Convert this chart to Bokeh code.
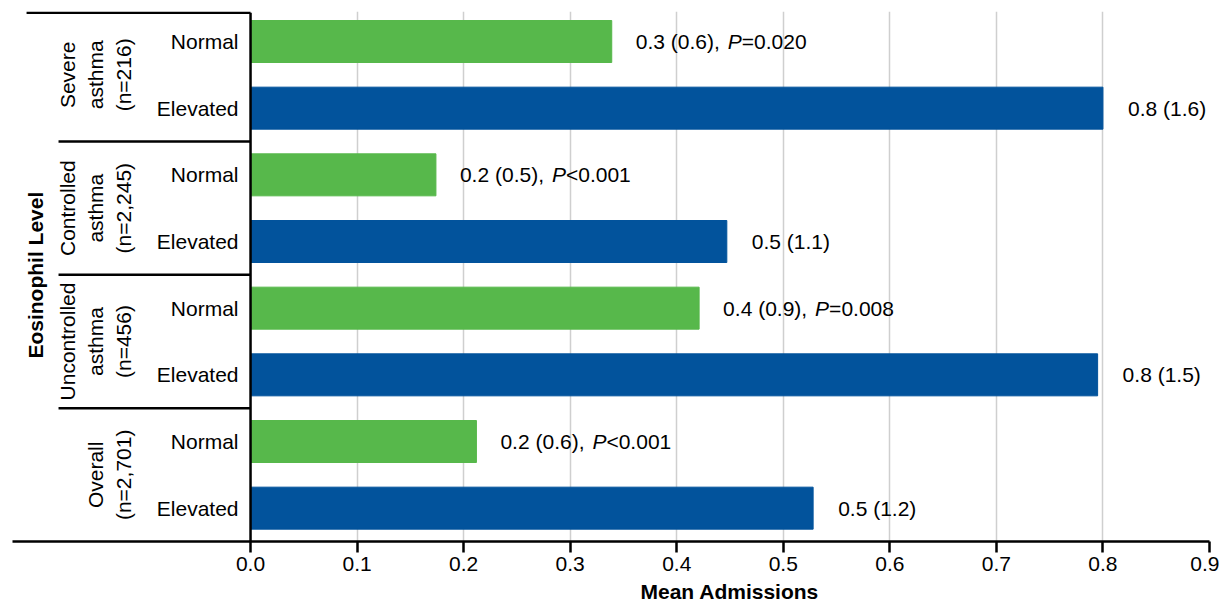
import math
from bokeh.plotting import figure
from bokeh.models import Range1d, FixedTicker, Title, ColumnDataSource, NumeralTickFormatter
from bokeh.core.properties import value
from bokeh.embed import file_html
from bokeh.resources import INLINE

# ---------------- data ----------------
groups = ["Severe\nasthma\n(n=216)", "Controlled\nasthma\n(n=2,245)",
          "Uncontrolled\nasthma\n(n=456)", "Overall\n(n=2,701)"]
levels = ["Normal", "Elevated"]
normal_means = [0.339, 0.174, 0.421, 0.212]
elevated_means = [0.800, 0.447, 0.795, 0.528]
normal_text = ["0.3 (0.6),", "0.2 (0.5),", "0.4 (0.9),", "0.2 (0.6),"]
p_symbol = ["P", "P", "P", "P"]
p_text = ["=0.020", "<0.001", "=0.008", "<0.001"]
elevated_text = ["0.8 (1.6)", "0.5 (1.1)", "0.8 (1.5)", "0.5 (1.2)"]
x_ticks = [0.0, 0.1, 0.2, 0.3, 0.4, 0.5, 0.6, 0.7, 0.8, 0.9]
x_title = "Mean Admissions"
y_title = "Eosinophil Level"

# ---------------- layout ----------------
FONT = "Liberation Sans"
FS = "21px"
GREEN = "#57b84b"
BLUE = "#02539c"
n = len(groups)
y_top = 2 * n - 0.05
normal_y = [2 * n - 0.5 - 2 * g for g in range(n)]
elev_y = [2 * n - 1.5 - 2 * g for g in range(n)]
centers = [2 * n - 1 - 2 * g for g in range(n)]
seps = [2 * n - 2 - 2 * g for g in range(n - 1)]

p = figure(width=1219, height=607,
           x_range=Range1d(-0.2234, 0.9), y_range=Range1d(0, y_top),
           output_backend="svg", toolbar_location=None, y_axis_location=None,
           min_border_left=12, min_border_right=10, min_border_top=11,
           min_border_bottom=66)
p.outline_line_color = None
p.background_fill_color = "white"
p.ygrid.visible = False
p.xgrid.ticker = FixedTicker(ticks=x_ticks[1:])
p.xgrid.grid_line_color = "#cfcfcf"
p.xgrid.grid_line_width = 1.5

ax = p.xaxis[0]
ax.ticker = FixedTicker(ticks=x_ticks)
ax.formatter = NumeralTickFormatter(format="0.0")
ax.axis_line_color = "black"
ax.axis_line_width = 2.5
ax.major_tick_line_color = "black"
ax.major_tick_line_width = 2.5
ax.major_tick_in = 0
ax.major_tick_out = 11
ax.minor_tick_line_color = None
ax.major_label_text_font = FONT
ax.major_label_text_font_size = FS
ax.major_label_text_color = "black"
ax.major_label_standoff = 4

src_n = ColumnDataSource(dict(y=normal_y, v=normal_means, t=normal_text, ps=p_symbol, pt=p_text))
src_e = ColumnDataSource(dict(y=elev_y, v=elevated_means, t=elevated_text))

p.hbar(y="y", left=0, right="v", height=0.63, color=GREEN, source=src_n)
p.hbar(y="y", left=0, right="v", height=0.63, color=BLUE, source=src_e)

# axes / separators
p.segment(x0=[0], y0=[0], x1=[0], y1=[y_top - 0.02], line_color="black", line_width=2.5)
p.segment(x0=[-0.2102], y0=[y_top - 0.02], x1=[0], y1=[y_top - 0.02], line_color="black", line_width=2.5)
p.segment(x0=[-0.1802] * len(seps), y0=seps, x1=[0] * len(seps), y1=seps,
          line_color="black", line_width=2.5)

common = dict(text_font=value(FONT), text_font_size=FS, text_color="black")

# level labels
p.text(x=[0] * n, y=normal_y, text=[levels[0]] * n, x_offset=-12,
       text_align="right", text_baseline="middle", **common)
p.text(x=[0] * n, y=elev_y, text=[levels[1]] * n, x_offset=-12,
       text_align="right", text_baseline="middle", **common)

# group labels
p.text(x=[0] * n, y=centers, text=groups, angle=math.pi / 2, x_offset=-116,
       text_align="center", text_baseline="bottom", text_line_height=1.2, **common)

# y title
p.text(x=[0], y=[y_top / 2 + 0.02], text=[y_title], angle=math.pi / 2, x_offset=-215,
       text_align="center", text_baseline="middle", text_font_style="bold", **common)

# value labels
p.text(x="v", y="y", text="t", x_offset=24, text_align="left", text_baseline="middle",
       source=src_n, **common)
p.text(x="v", y="y", text="ps", x_offset=24 + 92, text_align="left", text_baseline="middle",
       text_font_style="italic", source=src_n, **common)
p.text(x="v", y="y", text="pt", x_offset=24 + 106, text_align="left", text_baseline="middle",
       source=src_n, **common)
p.text(x="v", y="y", text="t", x_offset=25, text_align="left", text_baseline="middle",
       source=src_e, **common)

# x title (below the axis, centred under the data area)
p.add_layout(Title(text=x_title, align="left", offset=628, standoff=8,
                   text_font=FONT, text_font_size=FS, text_font_style="bold",
                   text_color="black"), "below")

open("out.html", "w").write(file_html(p, INLINE))
